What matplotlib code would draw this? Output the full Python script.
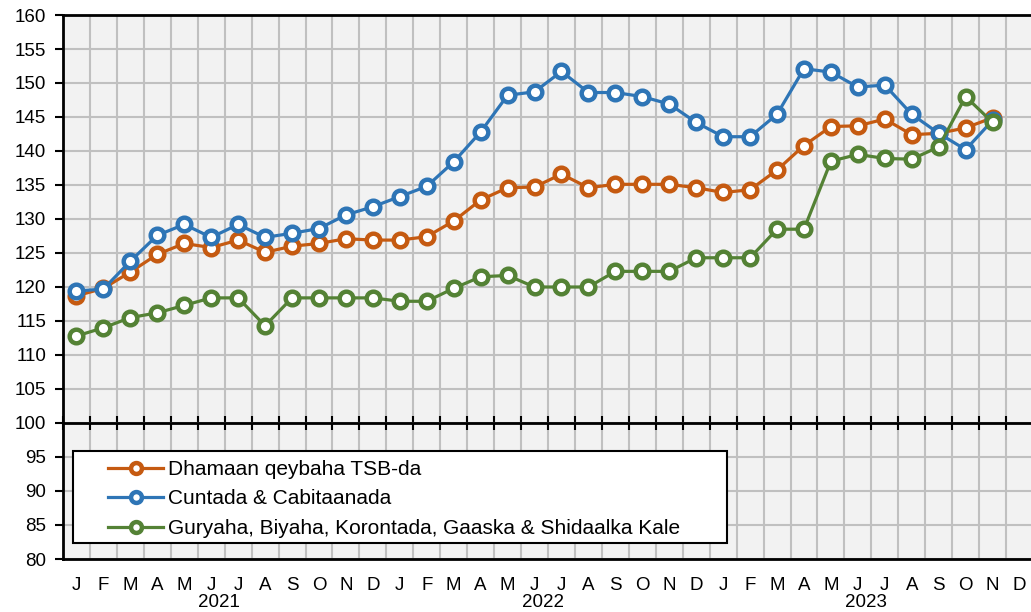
import numpy as np
import matplotlib.pyplot as plt
from matplotlib.patches import Rectangle
from matplotlib.transforms import blended_transform_factory

plt.rcParams['font.family'] = ['Liberation Sans', 'DejaVu Sans']

months = ['J', 'F', 'M', 'A', 'M', 'J', 'J', 'A', 'S', 'O', 'N', 'D'] * 3
years = ['2021', '2022', '2023']

dhamaan = [118.7, 119.8, 122.2, 124.8, 126.4, 125.8, 126.9, 125.1, 126.0, 126.4, 127.1, 126.9,
           126.9, 127.4, 129.7, 132.8, 134.6, 134.7, 136.6, 134.6, 135.1, 135.1, 135.1, 134.6,
           133.9, 134.3, 137.2, 140.8, 143.6, 143.7, 144.7, 142.4, 142.6, 143.4, 144.9]
cuntada = [119.4, 119.7, 123.8, 127.6, 129.2, 127.3, 129.2, 127.3, 127.9, 128.6, 130.6, 131.8,
           133.3, 134.8, 138.4, 142.8, 148.2, 148.7, 151.7, 148.6, 148.6, 148.0, 146.9, 144.2,
           142.1, 142.1, 145.4, 152.1, 151.6, 149.4, 149.7, 145.4, 142.6, 140.2, 144.5]
guryaha = [112.8, 114.0, 115.5, 116.2, 117.3, 118.4, 118.4, 114.3, 118.4, 118.4, 118.4, 118.4,
           117.9, 117.9, 119.8, 121.5, 121.7, 120.0, 120.0, 120.0, 122.3, 122.3, 122.3, 124.3,
           124.3, 124.3, 128.5, 128.5, 138.5, 139.5, 138.9, 138.8, 140.6, 148.0, 144.2]

labels = ['Dhamaan qeybaha TSB-da', 'Cuntada & Cabitaanada',
          'Guryaha, Biyaha, Korontada, Gaaska & Shidaalka Kale']
colors = ['#C55A11', '#2E75B6', '#548235']

fig = plt.figure(figsize=(10.31, 6.12), dpi=100)
ax = fig.add_axes([63 / 1031, 53 / 612, 970 / 1031, 544 / 612])
ax.set_facecolor('#F2F2F2')

x = np.arange(len(dhamaan))
for data, lab, c in zip([dhamaan, cuntada, guryaha], labels, colors):
    ax.plot(x, data, color=c, lw=2.3, marker='o', ms=9.8, mfc='white', mec=c,
            mew=3.2, label=lab, zorder=3)

ax.set_xlim(-0.5, 35.5)
ax.set_ylim(80, 160)
ax.set_yticks(np.arange(80, 161, 5))
ax.set_xticks(np.arange(-0.5, 36, 1))
ax.grid(True, color='#C0C0C0', lw=1.5, zorder=0)
ax.set_axisbelow(True)

# x axis drawn at 100
ax.spines['bottom'].set_position(('data', 100))
ax.spines['bottom'].set_linewidth(2)
ax.spines['left'].set_linewidth(2)
ax.spines['top'].set_linewidth(2)
ax.spines['right'].set_visible(False)
ax.tick_params(axis='x', direction='inout', length=10, width=1.5, labelbottom=False)
ax.tick_params(axis='y', direction='out', length=6, width=1.5, labelsize=13.5, pad=6)
ax.axhline(80, color='black', lw=2, zorder=4, clip_on=False)

sec = ax.secondary_xaxis('bottom')
sec.set_xticks(np.arange(36), months)
sec.tick_params(length=0, labelsize=13.5, pad=13)
sec.spines['bottom'].set_visible(False)

trans = blended_transform_factory(ax.transData, ax.transAxes)
for i, yr in enumerate(years):
    ax.text(12 * i + 5.3, -0.08, yr, transform=trans, ha='center', va='center', fontsize=13.5)

# legend box
ax.add_patch(Rectangle((0.0103, 0.0289), 0.6742, 0.1702, transform=ax.transAxes,
                       facecolor='white', edgecolor='black', lw=1.5, zorder=5))
leg = ax.legend(loc='center left', bbox_to_anchor=(0.0464, 0.1105), fontsize=15,
                handlelength=2.65, handletextpad=0.25, labelspacing=0.5,
                borderpad=0, borderaxespad=0, frameon=False, markerscale=0.8)
leg.set_zorder(6)

fig.savefig('out.png', dpi=100)
